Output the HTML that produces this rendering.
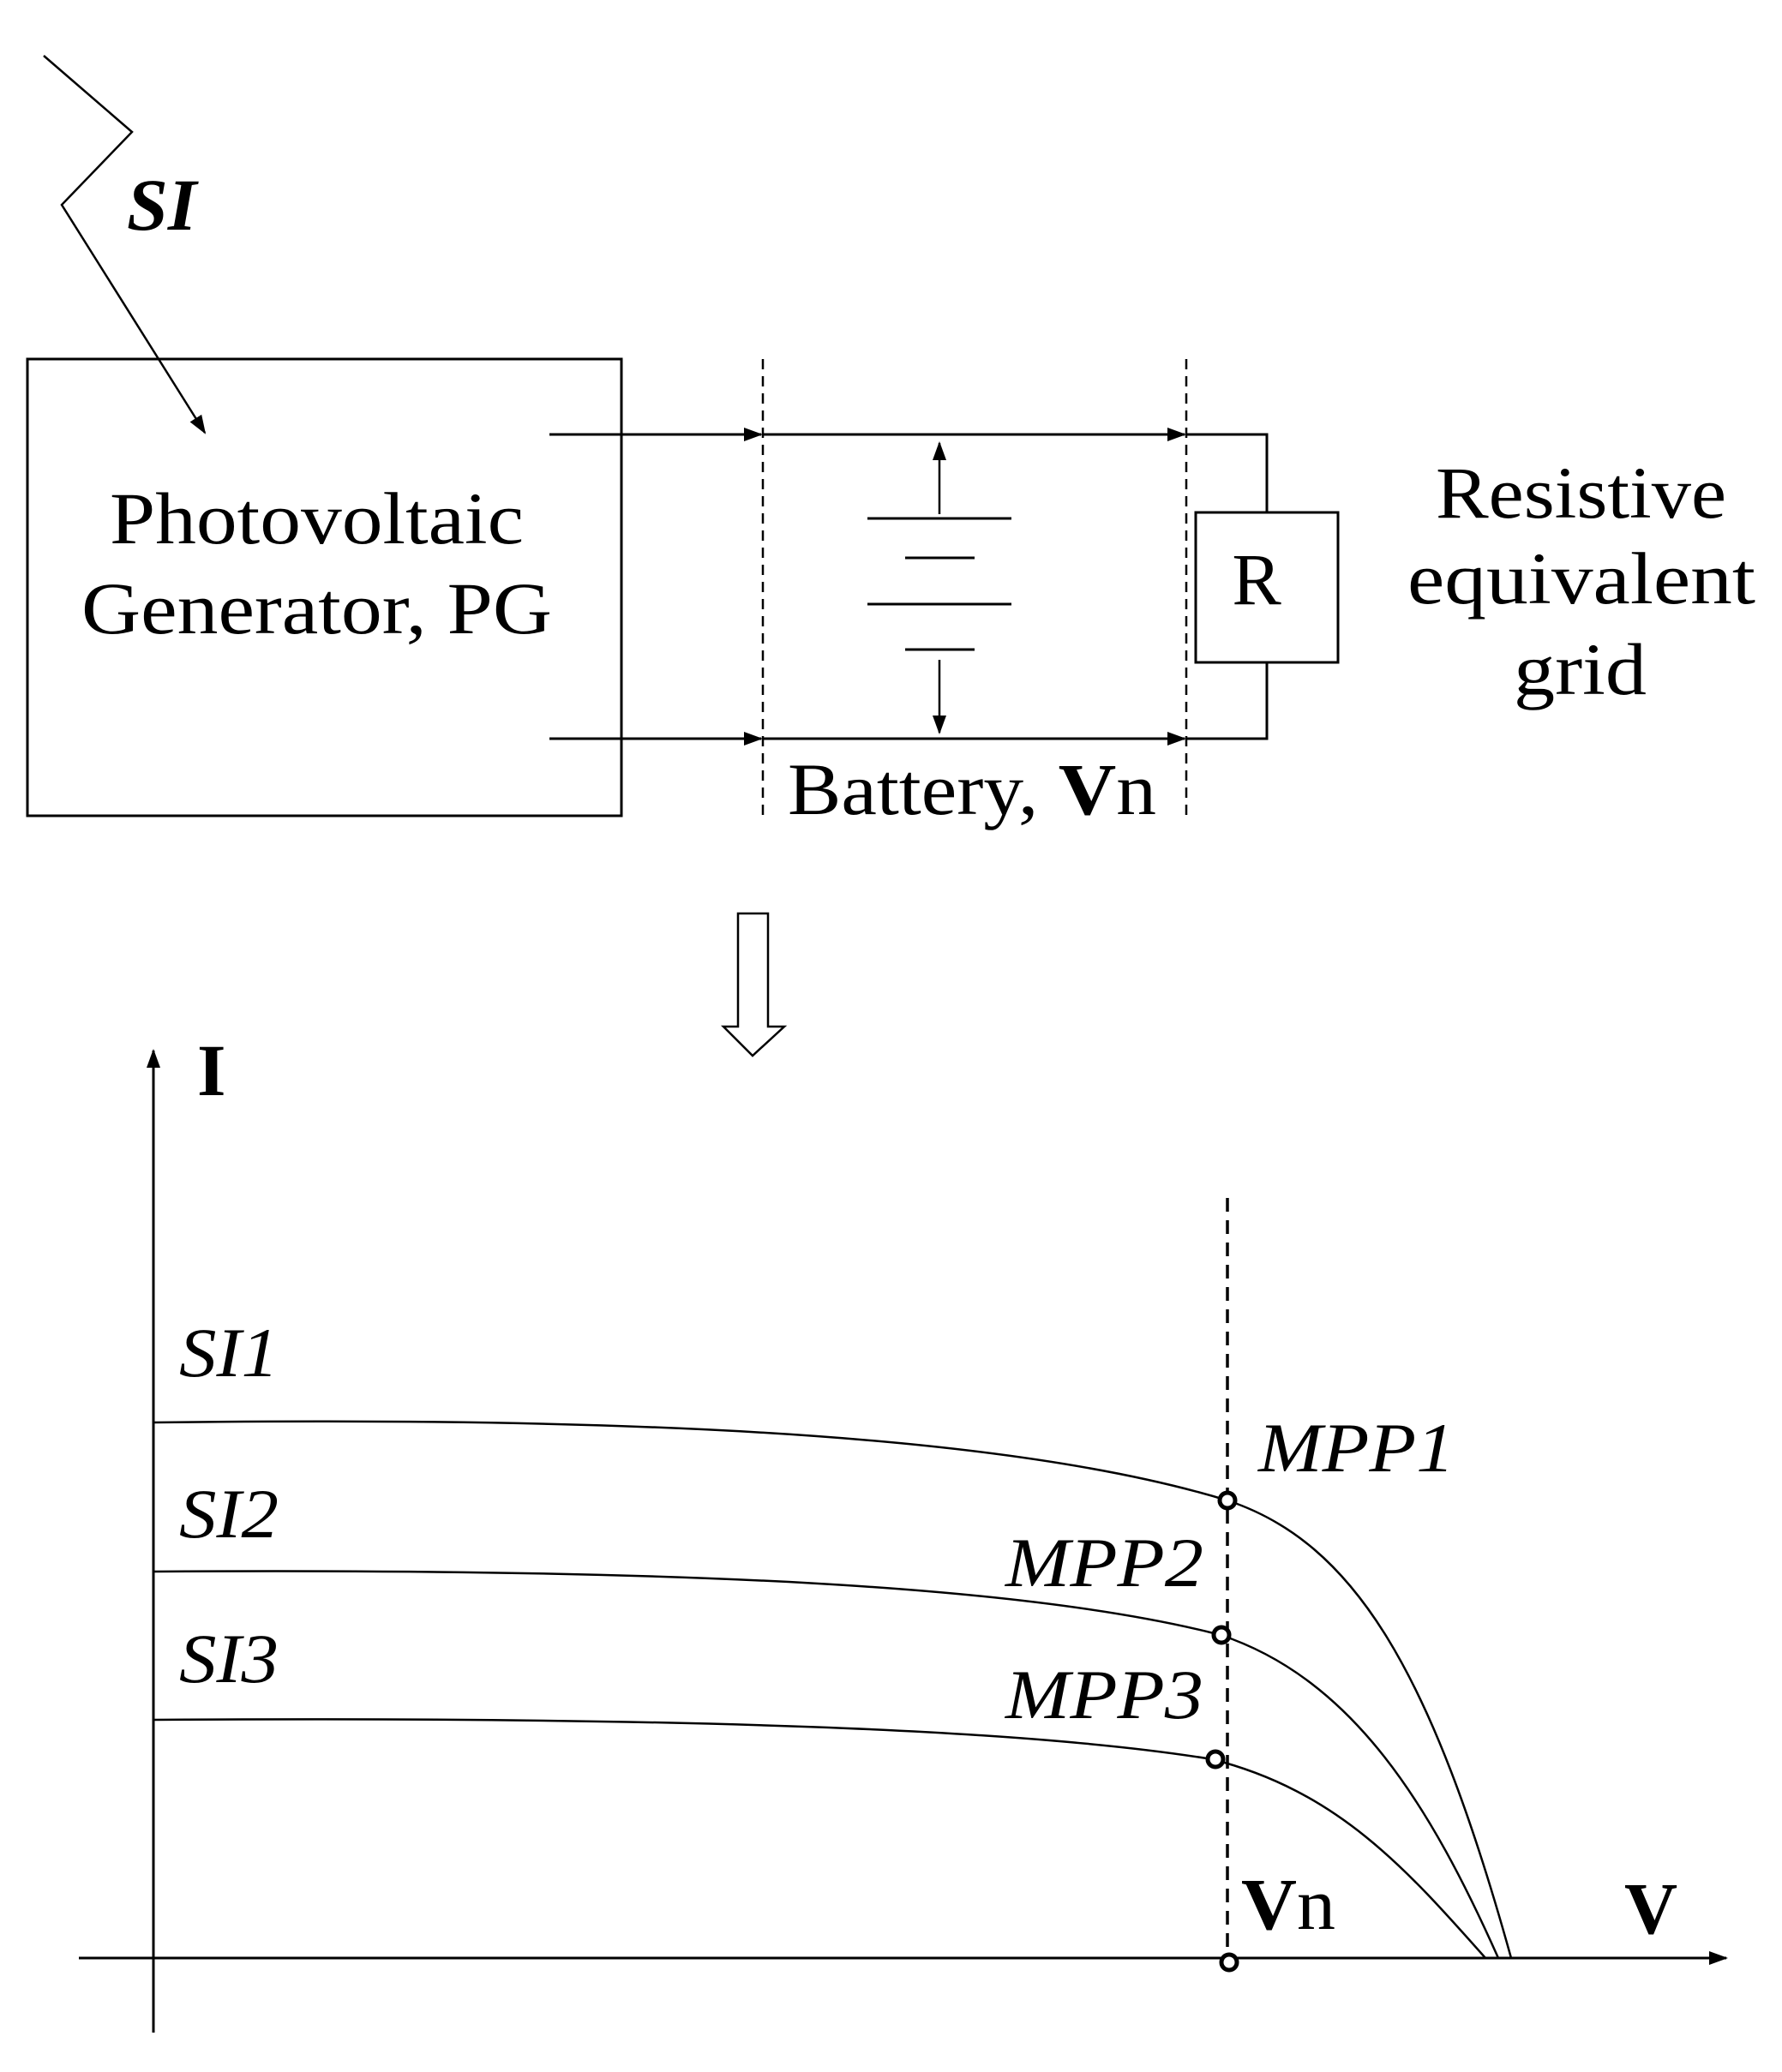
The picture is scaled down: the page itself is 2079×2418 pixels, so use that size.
<!DOCTYPE html>
<html><head><meta charset="utf-8"><style>
html,body{margin:0;padding:0;background:#fff;}
svg{display:block;}
text{font-family:"Liberation Serif",serif;fill:#000;}
</style></head><body>
<svg width="2079" height="2418" viewBox="0 0 2079 2418" xmlns="http://www.w3.org/2000/svg">
<defs>
<marker id="b" markerWidth="22" markerHeight="22" refX="20" refY="11" orient="auto" markerUnits="userSpaceOnUse" viewBox="0 0 22 22">
<path d="M0,3 L22,11 L0,19 z" fill="#000"/></marker>
</defs>
<g stroke="#000" fill="none" stroke-width="2.5">
<polyline points="51,65 154,154 72,239 239,505" marker-end="url(#b)"/>
<rect x="32" y="419" width="693" height="533" stroke-width="3"/>
<line x1="641" y1="507" x2="888" y2="507" marker-end="url(#b)" stroke-width="3"/>
<line x1="890" y1="507" x2="1382" y2="507" marker-end="url(#b)" stroke-width="3"/>
<polyline points="1384,507 1478,507 1478,598" stroke-width="3"/>
<line x1="641" y1="862" x2="888" y2="862" marker-end="url(#b)" stroke-width="3"/>
<line x1="890" y1="862" x2="1382" y2="862" marker-end="url(#b)" stroke-width="3"/>
<polyline points="1384,862 1478,862 1478,773" stroke-width="3"/>
<line x1="890" y1="419" x2="890" y2="952" stroke-dasharray="12,8"/>
<line x1="1384" y1="419" x2="1384" y2="952" stroke-dasharray="12,8"/>
<line x1="1012" y1="605" x2="1180" y2="605" stroke-width="3"/>
<line x1="1056" y1="651" x2="1137" y2="651" stroke-width="3"/>
<line x1="1012" y1="705" x2="1180" y2="705" stroke-width="3"/>
<line x1="1056" y1="758" x2="1137" y2="758" stroke-width="3"/>
<line x1="1096" y1="600" x2="1096" y2="517" marker-end="url(#b)"/>
<line x1="1096" y1="770" x2="1096" y2="855" marker-end="url(#b)"/>
<rect x="1395" y="598" width="166" height="175" stroke-width="3"/>
<path d="M861,1066 L896,1066 L896,1198 L915,1198 L878,1232 L844,1198 L861,1198 Z" stroke-width="2.5"/>
<line x1="179" y1="2372" x2="179" y2="1226" marker-end="url(#b)" stroke-width="3"/>
<line x1="92" y1="2285" x2="2014" y2="2285" marker-end="url(#b)" stroke-width="3"/>
<line x1="1432" y1="1398" x2="1432" y2="2285" stroke-dasharray="16,10" stroke-width="3.5"/>
<path d="M179,1660 C800,1652 1200,1680 1432,1751 C1580,1800 1670,1950 1763,2285"/>
<path d="M179,1834 C800,1830 1200,1850 1424,1908 C1580,1960 1670,2110 1748,2285"/>
<path d="M179,2007 C800,2003 1200,2018 1414,2053 C1560,2090 1640,2180 1733,2285"/>
<circle cx="1432" cy="1751" r="9" stroke-width="5" fill="#fff"/>
<circle cx="1425" cy="1908" r="9" stroke-width="5" fill="#fff"/>
<circle cx="1418" cy="2053" r="9" stroke-width="5" fill="#fff"/>
<circle cx="1434" cy="2290" r="9" stroke-width="5" fill="#fff"/>
</g>
<g font-size="86" lengthAdjust="spacingAndGlyphs">
<text x="148" y="268" font-weight="bold" font-style="italic">SI</text>
<text x="128" y="634" textLength="483" lengthAdjust="spacingAndGlyphs">Photovoltaic</text>
<text x="95" y="739" textLength="549" lengthAdjust="spacingAndGlyphs">Generator, PG</text>
<text x="1466" y="705" text-anchor="middle">R</text>
<text x="1675" y="604" textLength="339" lengthAdjust="spacingAndGlyphs">Resistive</text>
<text x="1642" y="704" textLength="406" lengthAdjust="spacingAndGlyphs">equivalent</text>
<text x="1766" y="810" textLength="155" lengthAdjust="spacingAndGlyphs">grid</text>
<text x="919" y="950" textLength="430" lengthAdjust="spacingAndGlyphs">Battery, <tspan font-weight="bold">V</tspan>n</text>
<text x="230" y="1278" font-weight="bold">I</text>
<text x="1895" y="2256" font-weight="bold">V</text>
<text x="1448" y="2251" textLength="110" lengthAdjust="spacingAndGlyphs"><tspan font-weight="bold">V</tspan>n</text>
</g>
<g font-size="82" font-style="italic">
<text x="209" y="1606" textLength="116" lengthAdjust="spacingAndGlyphs">SI1</text>
<text x="209" y="1794" textLength="116" lengthAdjust="spacingAndGlyphs">SI2</text>
<text x="209" y="1963" textLength="116" lengthAdjust="spacingAndGlyphs">SI3</text>
<text x="1468" y="1717" textLength="229" lengthAdjust="spacingAndGlyphs">MPP1</text>
<text x="1173" y="1851" textLength="231" lengthAdjust="spacingAndGlyphs">MPP2</text>
<text x="1173" y="2005" textLength="231" lengthAdjust="spacingAndGlyphs">MPP3</text>
</g>
</svg>
</body></html>
